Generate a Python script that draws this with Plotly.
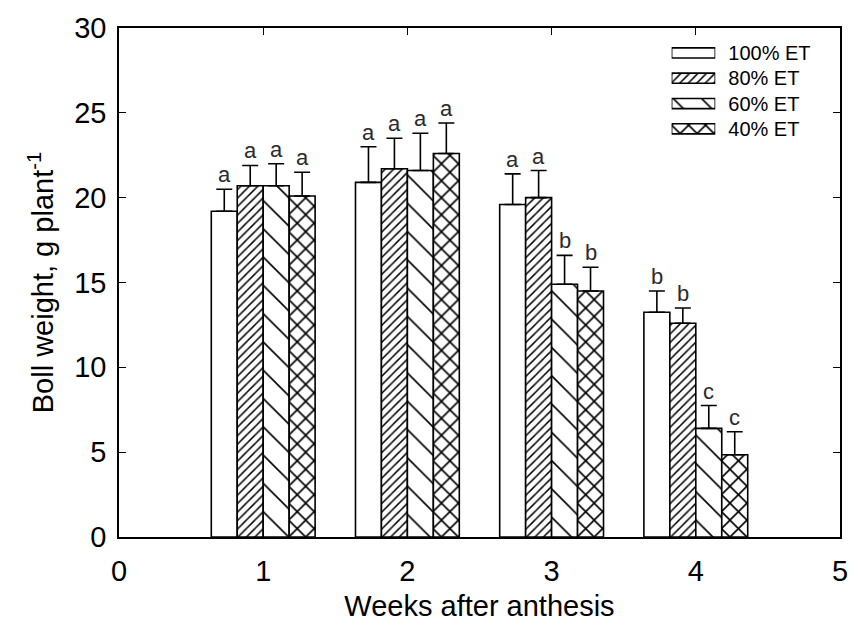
import plotly.graph_objects as go

weeks = [1, 2, 3, 4]
treatments = ["100% ET", "80% ET", "60% ET", "40% ET"]

# Mean boll weight (g plant^-1) per treatment and week
boll_100 = [19.2, 20.9, 19.6, 13.25]
boll_80 = [20.7, 21.7, 20.0, 12.6]
boll_60 = [20.7, 21.6, 14.9, 6.4]
boll_40 = [20.1, 22.6, 14.5, 4.85]

# Standard error (upper bar only)
se_100 = [1.3, 2.1, 1.8, 1.25]
se_80 = [1.2, 1.8, 1.6, 0.9]
se_60 = [1.3, 2.2, 1.7, 1.35]
se_40 = [1.4, 1.8, 1.4, 1.35]

# Mean separation letters
letters_100 = ["a", "a", "a", "b"]
letters_80 = ["a", "a", "a", "b"]
letters_60 = ["a", "a", "b", "c"]
letters_40 = ["a", "a", "b", "c"]

# Fill pattern per treatment: (shape, tile size, solidity)
hatch = [("", 8, 0.2), ("/", 6, 0.25), ("\\", 20, 0.08), ("x", 12, 0.25)]

series = [
    (treatments[0], boll_100, se_100, letters_100),
    (treatments[1], boll_80, se_80, letters_80),
    (treatments[2], boll_60, se_60, letters_60),
    (treatments[3], boll_40, se_40, letters_40),
]

FONT = "Liberation Sans, Arial"

fig = go.Figure()
for (name, vals, err, _), (shape, size, sol) in zip(series, hatch):
    fig.add_trace(go.Bar(
        x=weeks, y=vals, name=name, showlegend=False,
        marker=dict(
            color="white",
            line=dict(color="black", width=1.6),
            pattern=dict(shape=shape, size=size, solidity=sol,
                         fgcolor="black", bgcolor="white", fillmode="replace"),
        ),
        error_y=dict(type="data", symmetric=False, array=err,
                     arrayminus=[0] * len(err), color="black",
                     thickness=1.6, width=8),
    ))

# Legend key: wide hatched swatches on a small inset axis, labels as its tick text
fig.add_trace(go.Bar(
    x=[1] * len(treatments), y=treatments, orientation="h",
    xaxis="x2", yaxis="y2", width=0.4, showlegend=False, hoverinfo="skip",
    marker=dict(
        color="white",
        line=dict(color="black", width=1.6),
        pattern=dict(shape=[h[0] for h in hatch], size=[7, 6, 20, 12],
                     solidity=[h[2] for h in hatch],
                     fgcolor="black", bgcolor="white", fillmode="replace"),
    ),
))

# Letters above each error bar, placed at the bar's group offset
group_width = 0.72
bar_w = group_width / len(series)
annotations = []
for i, (name, vals, err, letters) in enumerate(series):
    offset = -group_width / 2 + bar_w * (i + 0.5)
    for w, v, e, lt in zip(weeks, vals, err, letters):
        annotations.append(dict(
            x=w + offset, y=v + e, text=lt, showarrow=False,
            xref="x", yref="y", yanchor="bottom", yshift=0,
            font=dict(family=FONT, size=22, color="#2a2a2a"),
        ))

axis_font = dict(family=FONT, size=29, color="black")
title_font = dict(family=FONT, size=29, color="black")
fig.update_layout(
    width=860, height=631,
    margin=dict(l=119, r=13, t=27, b=94),
    paper_bgcolor="white", plot_bgcolor="white",
    barmode="group", bargap=0.28, bargroupgap=0,
    showlegend=False,
    annotations=annotations,
    font=dict(family=FONT),
    xaxis=dict(
        range=[0, 5], tickvals=[0, 1, 2, 3, 4, 5], ticks="inside", ticklen=7,
        tickwidth=1.3, tickcolor="black", showline=True, linecolor="black",
        linewidth=1.6, mirror="ticks", showgrid=False, zeroline=False,
        tickfont=axis_font, ticklabelstandoff=7,
        title=dict(text="Weeks after anthesis", standoff=10, font=title_font),
    ),
    yaxis=dict(
        range=[0, 30], tickvals=[0, 5, 10, 15, 20, 25, 30], ticks="inside", ticklen=7,
        tickwidth=1.3, tickcolor="black", showline=True, linecolor="black",
        linewidth=1.6, mirror="ticks", showgrid=False, zeroline=False,
        tickfont=axis_font, ticklabelstandoff=5,
        title=dict(text="Boll weight, g plant<sup>-1</sup>", standoff=12, font=title_font),
    ),
    xaxis2=dict(domain=[0.7665, 0.827], range=[0, 1], anchor="y2",
                visible=False, fixedrange=True),
    yaxis2=dict(domain=[0.777, 0.9759], anchor="x2", side="right",
                autorange="reversed", showline=False, showgrid=False,
                zeroline=False, ticks="", ticklabelstandoff=12,
                tickfont=dict(family=FONT, size=20, color="black"),
                fixedrange=True),
)

fig.write_html("out.html")
